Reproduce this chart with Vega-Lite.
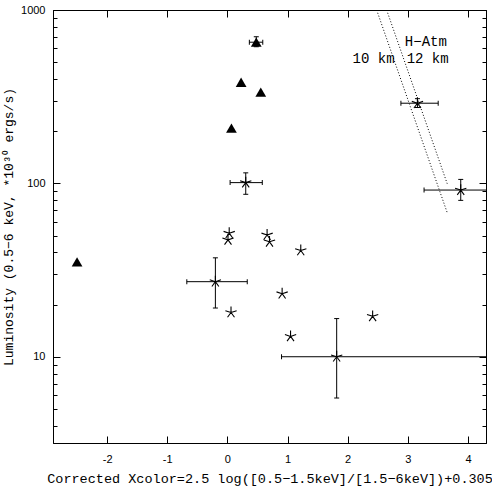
{
  "$schema": "https://vega.github.io/schema/vega-lite/v6.json",
  "width": 433,
  "height": 433,
  "autosize": "none",
  "padding": {"left": 53, "top": 10, "right": 6, "bottom": 43},
  "background": "white",
  "config": {
    "view": {"stroke": "black", "strokeWidth": 1},
    "axis": {
      "domainColor": "black",
      "tickColor": "black",
      "labelColor": "black",
      "labelFont": "Liberation Sans",
      "labelFontSize": 11,
      "titleFont": "Liberation Mono",
      "titleFontSize": 13.5,
      "titleFontWeight": "normal",
      "titleColor": "black",
      "grid": false
    }
  },
  "datasets": {
    "sources": [
      {"kind": "tri", "x": -2.50, "y": 35.3},
      {"kind": "tri", "x": 0.067, "y": 208},
      {"kind": "tri", "x": 0.228, "y": 383},
      {"kind": "tri", "x": 0.555, "y": 336},
      {"kind": "tri", "x": 0.48, "y": 652, "xlo": 0.365, "xhi": 0.588, "ylo": 614, "yhi": 701},
      {"kind": "star", "x": 0.305, "y": 101, "xlo": 0.045, "xhi": 0.58, "ylo": 86.5, "yhi": 115},
      {"kind": "star", "x": 3.16, "y": 290, "xlo": 2.885, "xhi": 3.505, "ylo": 274, "yhi": 308},
      {"kind": "star", "x": 3.88, "y": 91.5, "xlo": 3.27, "xhi": 4.6, "ylo": 79.8, "yhi": 105.4},
      {"kind": "star", "x": 0.03, "y": 51.6},
      {"kind": "star", "x": 0.01, "y": 47.2},
      {"kind": "star", "x": 0.66, "y": 50.4},
      {"kind": "star", "x": 0.70, "y": 46.0},
      {"kind": "star", "x": 1.22, "y": 41.0},
      {"kind": "star", "x": -0.20, "y": 27.1, "xlo": -0.675, "xhi": 0.33, "ylo": 19.1, "yhi": 37.2},
      {"kind": "star", "x": 0.06, "y": 18.0},
      {"kind": "star", "x": 0.91, "y": 23.1},
      {"kind": "star", "x": 1.05, "y": 13.1},
      {"kind": "star", "x": 2.415, "y": 17.1},
      {"kind": "star", "x": 1.817, "y": 10.0, "xlo": 0.90, "xhi": 4.6, "ylo": 5.78, "yhi": 16.6}
    ],
    "atmosphere": [
      {"radius": "10 km", "x": 2.482, "y": 1000},
      {"radius": "10 km", "x": 3.655, "y": 67.8},
      {"radius": "12 km", "x": 2.648, "y": 1000},
      {"radius": "12 km", "x": 3.655, "y": 99.6}
    ],
    "notes": [
      {"label": "H−Atm", "x": 3.30, "y": 652},
      {"label": "10 km", "x": 2.43, "y": 525},
      {"label": "12 km", "x": 3.33, "y": 525}
    ]
  },
  "resolve": {"axis": {"x": "independent", "y": "independent"}},
  "layer": [
    {
      "data": {"name": "sources"},
      "transform": [{"filter": "datum.kind == 'star'"}],
      "mark": {
        "type": "point",
        "shape": "M0,0L0,-1M0,0L0.951,-0.309M0,0L0.588,0.809M0,0L-0.588,0.809M0,0L-0.951,-0.309",
        "filled": false,
        "color": "black",
        "strokeWidth": 1.1,
        "size": 140,
        "opacity": 1
      },
      "encoding": {
        "x": {
          "field": "x", "type": "quantitative",
          "scale": {"domain": [-2.9, 4.3], "nice": false, "zero": false},
          "axis": {
            "orient": "bottom",
            "values": [-2, -1, 0, 1, 2, 3, 4],
            "labelExpr": "'' + datum.value",
            "tickSize": -7,
            "labelPadding": 17,
            "title": "Corrected Xcolor=2.5 log([0.5−1.5keV]/[1.5−6keV])+0.305",
            "titlePadding": 7
          }
        },
        "y": {
          "field": "y", "type": "quantitative",
          "scale": {"type": "log", "domain": [3.18, 1000], "nice": false},
          "axis": {
            "orient": "left",
            "values": [4, 5, 6, 7, 8, 9, 10, 20, 30, 40, 50, 60, 70, 80, 90, 100, 200, 300, 400, 500, 600, 700, 800, 900, 1000],
            "format": "d",
            "labelExpr": "datum.value == 10 || datum.value == 100 || datum.value == 1000 ? datum.label : ''",
            "tickSize": {"condition": {"test": "datum.value == 10 || datum.value == 100 || datum.value == 1000", "value": -7}, "value": -4},
            "labelPadding": 15,
            "title": "Luminosity (0.5−6 keV, *10³⁰ ergs/s)",
            "titleFontSize": 13,
            "titlePadding": 5
          }
        }
      }
    },
    {
      "data": {"name": "sources"},
      "transform": [{"filter": "datum.kind == 'tri'"}],
      "mark": {"type": "point", "shape": "triangle-up", "filled": true, "color": "black", "size": 115, "opacity": 1},
      "encoding": {
        "x": {
          "field": "x", "type": "quantitative",
          "axis": {"orient": "top", "values": [-2, -1, 0, 1, 2, 3, 4], "tickSize": -7, "labels": false, "title": null}
        },
        "y": {
          "field": "y", "type": "quantitative",
          "axis": {
            "orient": "right",
            "values": [4, 5, 6, 7, 8, 9, 10, 20, 30, 40, 50, 60, 70, 80, 90, 100, 200, 300, 400, 500, 600, 700, 800, 900, 1000],
            "tickSize": {"condition": {"test": "datum.value == 10 || datum.value == 100 || datum.value == 1000", "value": -7}, "value": -4},
            "labels": false,
            "title": null
          }
        }
      }
    },
    {
      "data": {"name": "sources"},
      "transform": [{"filter": "isValid(datum.xlo)"}],
      "mark": {"type": "rule", "color": "black", "strokeWidth": 1, "clip": true},
      "encoding": {
        "x": {"field": "xlo", "type": "quantitative", "axis": null},
        "x2": {"field": "xhi"},
        "y": {"field": "y", "type": "quantitative", "axis": null}
      }
    },
    {
      "data": {"name": "sources"},
      "transform": [{"filter": "isValid(datum.ylo)"}],
      "mark": {"type": "rule", "color": "black", "strokeWidth": 1, "clip": true},
      "encoding": {
        "x": {"field": "x", "type": "quantitative", "axis": null},
        "y": {"field": "ylo", "type": "quantitative", "axis": null},
        "y2": {"field": "yhi"}
      }
    },
    {
      "data": {"name": "sources"},
      "transform": [
        {"filter": "isValid(datum.xlo)"},
        {"fold": ["xlo", "xhi"], "as": ["end", "xend"]}
      ],
      "mark": {"type": "tick", "orient": "vertical", "color": "black", "size": 5, "thickness": 1, "opacity": 1, "clip": true},
      "encoding": {
        "x": {"field": "xend", "type": "quantitative", "axis": null},
        "y": {"field": "y", "type": "quantitative", "axis": null}
      }
    },
    {
      "data": {"name": "sources"},
      "transform": [
        {"filter": "isValid(datum.ylo)"},
        {"fold": ["ylo", "yhi"], "as": ["end", "yend"]}
      ],
      "mark": {"type": "tick", "orient": "horizontal", "color": "black", "size": 5, "thickness": 1, "opacity": 1, "clip": true},
      "encoding": {
        "x": {"field": "x", "type": "quantitative", "axis": null},
        "y": {"field": "yend", "type": "quantitative", "axis": null}
      }
    },
    {
      "data": {"name": "atmosphere"},
      "mark": {"type": "line", "color": "black", "strokeWidth": 1, "strokeDash": [1, 2], "clip": true},
      "encoding": {
        "x": {"field": "x", "type": "quantitative", "axis": null},
        "y": {"field": "y", "type": "quantitative", "axis": null},
        "detail": {"field": "radius"}
      }
    },
    {
      "data": {"name": "notes"},
      "mark": {"type": "text", "font": "Liberation Mono", "fontSize": 14, "color": "black", "align": "center", "baseline": "middle"},
      "encoding": {
        "x": {"field": "x", "type": "quantitative", "axis": null},
        "y": {"field": "y", "type": "quantitative", "axis": null},
        "text": {"field": "label"}
      }
    }
  ]
}
